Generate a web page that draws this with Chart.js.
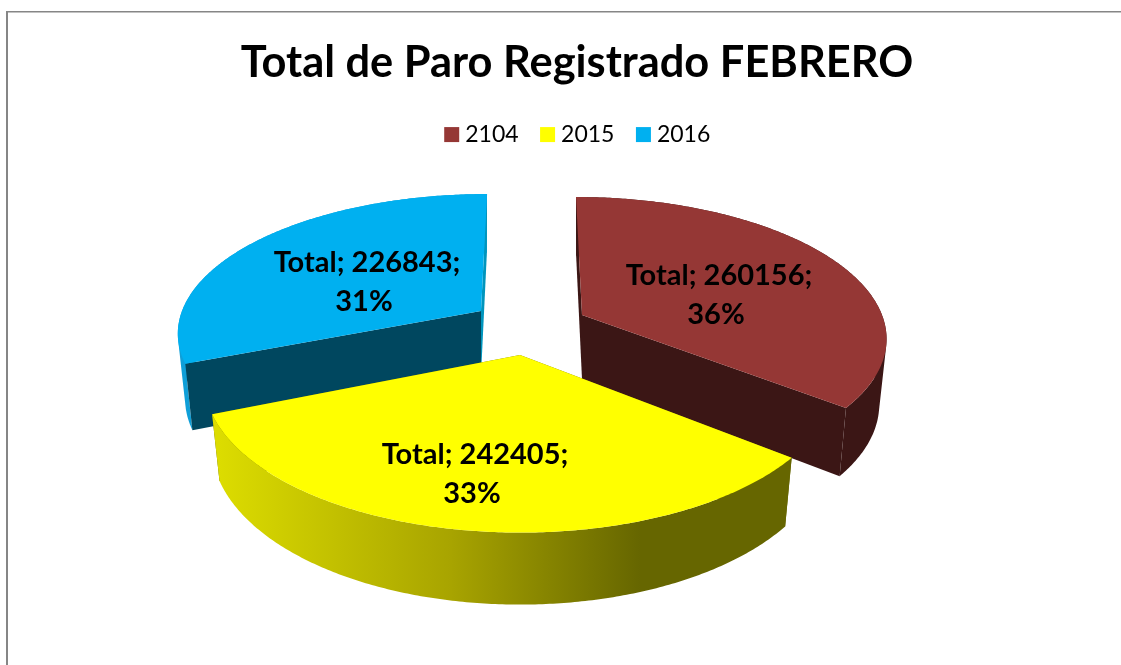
<!DOCTYPE html>
<html lang="es">
<head>
<meta charset="utf-8">
<title>Total de Paro Registrado FEBRERO</title>
<script src="https://cdn.jsdelivr.net/npm/chart.js@4"></script>
<style>
html,body{margin:0;padding:0;background:#fff;overflow:hidden}
#box{position:absolute;left:0;top:0;width:1121px;height:665px}
</style>
</head>
<body>
<div id="box"><canvas id="c" width="1121" height="665" style="width:1121px;height:665px"></canvas></div>
<script>
const titleText = 'Total de Paro Registrado FEBRERO';
const seriesName = 'Total';
const categories = ['2104', '2015', '2016'];
const values = [260156, 242405, 226843];
const colors = ['#953735', '#FFFF00', '#00B0F0'];

/* 3D look of each slice: where its apex sits after the explosion, and the perspective of the disc */
const look = [
  {ax:582, ay:315, rx:300, ry:135.7, k:0.150, shear: 6.9, lx:719, ly:276, startWall:'#3B1615', endWall:'#3B1615', rim:'#3B1615', wallsFront:true},
  {ax:520, ay:355, rx:312, ry:149,   k:0.161, shear: 0,   lx:475, ly:455, startWall:'#666600', endWall:'#666600', rim:null, wallsFront:false},
  {ax:481, ay:311, rx:299, ry:133.7, k:0.143, shear:-6.9, lx:367, ly:263, startWall:'#00475F', endWall:'#0095BD', rim:'#0F9FD8', wallsFront:true}
];
const drawOrder = [2, 0, 1];
const WALL_D = 64, WALL_FX = 0.976, WALL_FY = 1.045;

function project(l, theta, r, low) {
  const X = Math.sin(theta) * r, Y = -Math.cos(theta) * r, w = 1 - l.k * Y;
  let dx = (l.rx * X + l.shear * Y) / w, dy = l.ry * Y / w;
  if (low) { dx *= WALL_FX; dy = dy * WALL_FY + WALL_D; }
  return [l.ax + dx, l.ay + dy];
}
function arcPoints(l, a0, a1, low) {
  const n = Math.max(8, Math.ceil((a1 - a0) / 0.01)), pts = [];
  for (let i = 0; i <= n; i++) pts.push(project(l, a0 + (a1 - a0) * i / n, 1, low));
  return pts;
}
function tracePoly(ctx, pts) {
  pts.forEach((p, i) => i ? ctx.lineTo(p[0], p[1]) : ctx.moveTo(p[0], p[1]));
  ctx.closePath();
}
function fillPoly(ctx, pts, fill) {
  ctx.beginPath();
  tracePoly(ctx, pts);
  ctx.fillStyle = fill;
  ctx.fill();
}
function signedArea(q) {
  let a = 0;
  q.forEach((p, i) => { const n = q[(i + 1) % q.length]; a += p[0] * n[1] - n[0] * p[1]; });
  return a;
}

const pie3d = {
  id: 'pie3d',
  afterLayout(chart) {
    chart.legend.left += 3;
    chart.legend.right += 3;
  },
  beforeDraw(chart) {
    const c = chart.ctx;
    c.save();
    c.fillStyle = '#fff'; c.fillRect(0, 0, chart.width, chart.height);
    c.fillStyle = '#868686';
    c.fillRect(6, 11, 2, chart.height - 11);
    c.fillRect(6, 11, chart.width - 6, 1.5);
    c.restore();
  },
  beforeDatasetDraw(chart, args) {
    const c = chart.ctx, arcs = args.meta.data;
    c.save();
    drawOrder.forEach(i => {
      const l = look[i], a0 = arcs[i].startAngle + Math.PI / 2, a1 = arcs[i].endAngle + Math.PI / 2;
      const topArc = arcPoints(l, a0, a1, false), lowArc = arcPoints(l, a0, a1, true);
      const apexTop = project(l, 0, 0, false), apexLow = project(l, 0, 0, true);
      const drawWalls = () => {
        fillPoly(c, [apexTop, topArc[topArc.length - 1], lowArc[lowArc.length - 1], apexLow], l.endWall);
        fillPoly(c, [apexTop, topArc[0], lowArc[0], apexLow], l.startWall);
      };
      if (!l.wallsFront) drawWalls();
      // rim: one path of same-wound quads, so that the silhouette is right and no seams show
      let rim = l.rim;
      if (!rim) {
        const g = c.createLinearGradient(219, 0, 640, 0);
        g.addColorStop(0, '#DCDC00');
        g.addColorStop(0.55, '#A8A400');
        g.addColorStop(1, '#666600');
        rim = g;
      }
      c.beginPath();
      for (let s = 0; s + 1 < topArc.length; s++) {
        const q = [topArc[s], topArc[s + 1], lowArc[s + 1], lowArc[s]];
        if (signedArea(q) < 0) q.reverse();
        tracePoly(c, q);
      }
      c.fillStyle = rim;
      c.fill('nonzero');
      if (l.wallsFront) drawWalls();
      // top face
      fillPoly(c, [apexTop].concat(topArc), arcs[i].options.backgroundColor);
    });
    c.restore();
    return false;
  },
  afterDatasetsDraw(chart) {
    const c = chart.ctx, total = values.reduce((a, b) => a + b, 0);
    c.save();
    c.font = 'bold 29px Lato';
    c.fillStyle = '#000';
    c.textAlign = 'center';
    c.textBaseline = 'middle';
    values.forEach((v, i) => {
      c.fillText(seriesName + '; ' + v + ';', look[i].lx, look[i].ly);
      c.fillText(Math.round(v / total * 100) + '%', look[i].lx - 3, look[i].ly + 39);
    });
    c.restore();
  }
};

new Chart(document.getElementById('c'), {
  type: 'pie',
  data: {
    labels: categories,
    datasets: [{ label: seriesName, data: values, backgroundColor: colors, borderWidth: 0 }]
  },
  plugins: [pie3d],
  options: {
    responsive: false,
    animation: false,
    layout: { padding: { left: 33, top: 0 } },
    plugins: {
      tooltip: { enabled: false },
      title: {
        display: true, text: titleText, color: '#000',
        font: { family: 'Lato', size: 43.4, weight: 'bold' },
        padding: { top: 37, bottom: 7 }
      },
      legend: {
        display: true, position: 'top',
        labels: {
          color: '#000',
          font: { family: 'Lato', size: 23 },
          usePointStyle: true, pointStyle: 'rect',
          boxWidth: 4, boxHeight: 15, padding: 27
        }
      }
    }
  }
});
</script>
</body>
</html>
